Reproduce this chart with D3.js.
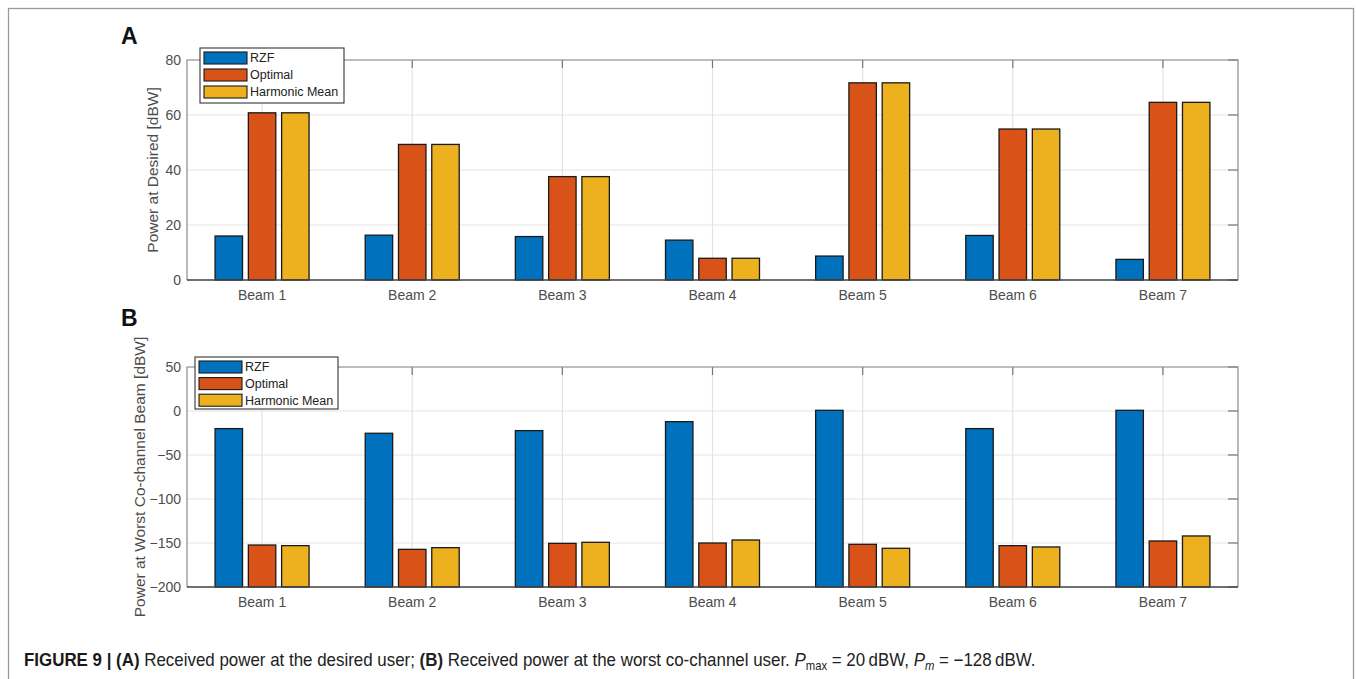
<!DOCTYPE html>
<html>
<head>
<meta charset="utf-8">
<script src="https://cdn.jsdelivr.net/npm/d3@7"></script>
<style>
  body { margin: 0; background: #fff; }
  svg { display: block; }
  .tick text { font-family: "Liberation Sans", Arial, sans-serif; font-size: 14px; fill: #4d4d4d; }
</style>
</head>
<body>
<div id="chart"></div>
<script>
/* DATA */
const beams = ['Beam 1', 'Beam 2', 'Beam 3', 'Beam 4', 'Beam 5', 'Beam 6', 'Beam 7'];
const seriesNames = ['RZF', 'Optimal', 'Harmonic Mean'];
const colors = ['#0072BD', '#D95319', '#EDB120'];

// panel A: power at desired user [dBW]
const desiredRZF = [16.0, 16.3, 15.8, 14.5, 8.7, 16.2, 7.5];
const desiredOptimal = [60.8, 49.3, 37.6, 7.9, 71.7, 54.9, 64.6];
const desiredHarmonic = [60.8, 49.3, 37.6, 7.9, 71.7, 54.9, 64.6];
const desiredTicks = [0, 20, 40, 60, 80];

// panel B: power at worst co-channel beam [dBW]
const worstRZF = [-20, -25.3, -22.3, -12.1, 0.8, -20, 0.8];
const worstOptimal = [-152.3, -157.2, -150.4, -150, -151.5, -153, -147.7];
const worstHarmonic = [-153, -155.3, -149.2, -146.6, -156, -154.5, -142];
const worstTicks = [-200, -150, -100, -50, 0, 50];

const W = 1356, H = 679;
const svg = d3.select('#chart')
  .append('svg')
  .attr('width', W)
  .attr('height', H);

// outer frame of the figure
svg.append('rect')
  .attr('x', 8.5).attr('y', 8.5)
  .attr('width', 1345).attr('height', 700)
  .attr('fill', 'none')
  .attr('stroke', '#9a9a9a')
  .attr('stroke-width', 1.3);

const plotLeft = 187, plotRight = 1238;

function drawPanel(opts) {
  const { top, bottom, domain, ticks, values, ylabel, labelX, letter, legendPos } = opts;
  const g = svg.append('g');

  const x = d3.scaleBand()
    .domain(beams)
    .range([plotLeft, plotRight])
    .padding(0);

  const c = x.bandwidth() / 2;
  const xSub = d3.scaleBand()
    .domain(seriesNames)
    .range([c - 47, c + 47])
    .paddingInner(0.175)
    .paddingOuter(0);

  const y = d3.scaleLinear()
    .domain(domain)
    .range([bottom, top]);

  // grid
  g.append('g')
    .selectAll('line')
    .data(ticks)
    .join('line')
    .attr('x1', plotLeft).attr('x2', plotRight)
    .attr('y1', d => y(d)).attr('y2', d => y(d))
    .attr('stroke', '#e3e3e3')
    .attr('stroke-width', 1.2);

  g.append('g')
    .selectAll('line')
    .data(beams)
    .join('line')
    .attr('x1', d => x(d) + c).attr('x2', d => x(d) + c)
    .attr('y1', top).attr('y2', bottom)
    .attr('stroke', '#e3e3e3')
    .attr('stroke-width', 1.2);

  // bars, rising from the bottom of the axis
  const rows = beams.map((b, i) => ({ beam: b, vals: values.map(v => v[i]) }));
  const groups = g.append('g')
    .selectAll('g.beam')
    .data(rows)
    .join('g')
    .attr('class', 'beam')
    .attr('transform', d => `translate(${x(d.beam)},0)`);

  const base = domain[0];
  groups.selectAll('rect')
    .data(d => d.vals.map((v, k) => ({ name: seriesNames[k], v, k })))
    .join('rect')
    .attr('x', d => xSub(d.name))
    .attr('width', xSub.bandwidth())
    .attr('y', d => y(d.v))
    .attr('height', d => y(base) - y(d.v))
    .attr('fill', d => colors[d.k])
    .attr('stroke', '#1a1a1a')
    .attr('stroke-width', 1.3);

  // axes
  const yAxis = d3.axisLeft(y).tickValues(ticks).tickSize(0).tickPadding(6);
  g.append('g')
    .attr('transform', `translate(${plotLeft},0)`)
    .call(yAxis)
    .call(s => s.select('.domain').remove());

  const xAxis = d3.axisBottom(x).tickSize(0).tickPadding(10);
  g.append('g')
    .attr('transform', `translate(0,${bottom})`)
    .call(xAxis)
    .call(s => s.select('.domain').remove());

  // inner ticks on top and right (MATLAB box)
  g.append('g')
    .selectAll('line')
    .data(beams)
    .join('line')
    .attr('x1', d => x(d) + c).attr('x2', d => x(d) + c)
    .attr('y1', top).attr('y2', top + 8)
    .attr('stroke', '#777').attr('stroke-width', 1.2);

  g.append('g')
    .selectAll('line')
    .data(ticks)
    .join('line')
    .attr('x1', plotRight - 10).attr('x2', plotRight)
    .attr('y1', d => y(d)).attr('y2', d => y(d))
    .attr('stroke', '#777').attr('stroke-width', 1.2);

  // box
  g.append('path')
    .attr('d', `M${plotLeft},${bottom}V${top}H${plotRight}V${bottom}`)
    .attr('fill', 'none')
    .attr('stroke', '#8a8a8a')
    .attr('stroke-width', 1.2);
  g.append('line')
    .attr('x1', plotLeft).attr('x2', plotRight)
    .attr('y1', bottom).attr('y2', bottom)
    .attr('stroke', '#444')
    .attr('stroke-width', 1.4);

  // y label
  g.append('text')
    .attr('transform', `translate(${labelX},${(top + bottom) / 2}) rotate(-90)`)
    .attr('text-anchor', 'middle')
    .style('font-family', '"Liberation Sans", Arial, sans-serif')
    .style('font-size', '15.5px')
    .style('fill', '#4d4d4d')
    .text(ylabel);

  // panel letter
  g.append('text')
    .attr('x', 121).attr('y', letter.y)
    .style('font-family', '"Liberation Sans", Arial, sans-serif')
    .style('font-size', '23px')
    .style('font-weight', 'bold')
    .style('fill', '#111')
    .text(letter.text);

  // legend
  const lg = g.append('g').attr('transform', `translate(${legendPos.x},${legendPos.y})`);
  lg.append('rect')
    .attr('width', legendPos.w).attr('height', legendPos.h)
    .attr('fill', '#fff')
    .attr('stroke', '#333')
    .attr('stroke-width', 1.1);
  const item = lg.selectAll('g.item')
    .data(seriesNames)
    .join('g')
    .attr('class', 'item')
    .attr('transform', (d, i) => `translate(4,${legendPos.first + i * legendPos.step})`);
  item.append('rect')
    .attr('x', 0).attr('y', -6)
    .attr('width', 43).attr('height', 12)
    .attr('fill', (d, i) => colors[i])
    .attr('stroke', '#1a1a1a')
    .attr('stroke-width', 1.1);
  item.append('text')
    .attr('x', 46).attr('y', 0)
    .attr('dy', '0.35em')
    .style('font-family', '"Liberation Sans", Arial, sans-serif')
    .style('font-size', '12.5px')
    .style('fill', '#222')
    .text(d => d);
}

drawPanel({
  top: 60, bottom: 280,
  domain: [0, 80],
  ticks: desiredTicks,
  values: [desiredRZF, desiredOptimal, desiredHarmonic],
  ylabel: 'Power at Desired [dBW]',
  labelX: 158,
  letter: { text: 'A', y: 44 },
  legendPos: { x: 200, y: 48, w: 144, h: 55, first: 10, step: 17 }
});

drawPanel({
  top: 367, bottom: 587,
  domain: [-200, 50],
  ticks: worstTicks,
  values: [worstRZF, worstOptimal, worstHarmonic],
  ylabel: 'Power at Worst Co-channel Beam [dBW]',
  labelX: 145,
  letter: { text: 'B', y: 326 },
  legendPos: { x: 195, y: 357, w: 143, h: 52, first: 10, step: 16.6 }
});

// caption (condensed face approximated by a horizontal squeeze)
const cap = svg.append('text')
  .attr('transform', 'translate(24,666) scale(0.94,1)')
  .style('font-family', '"Liberation Sans", Arial, sans-serif')
  .style('font-size', '18px')
  .style('fill', '#222');
cap.append('tspan').style('font-weight', 'bold').style('fill', '#1a1a1a').text('FIGURE 9 | (A)');
cap.append('tspan').text(' Received power at the desired user; ');
cap.append('tspan').style('font-weight', 'bold').text('(B)');
cap.append('tspan').text(' Received power at the worst co-channel user. ');
cap.append('tspan').style('font-style', 'italic').text('P');
cap.append('tspan').attr('dy', 4).style('font-size', '12px').text('max');
cap.append('tspan').attr('dy', -4).text(' = 20\u2009dBW, ');
cap.append('tspan').style('font-style', 'italic').text('P');
cap.append('tspan').attr('dy', 4).style('font-size', '12px').style('font-style', 'italic').text('m');
cap.append('tspan').attr('dy', -4).text(' = \u2212128\u2009dBW.');
</script>
</body>
</html>
